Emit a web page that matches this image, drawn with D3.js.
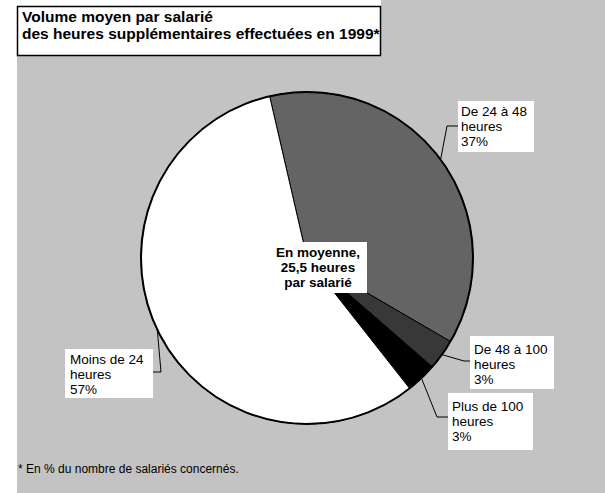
<!DOCTYPE html>
<html lang="fr">
<head>
<meta charset="utf-8">
<script src="https://cdn.jsdelivr.net/npm/d3@7"></script>
<style>
  html, body { margin: 0; padding: 0; background: #fff; }
  svg { display: block; }
  text { font-family: "Liberation Sans", Arial, sans-serif; fill: #000; }
</style>
</head>
<body>
<svg id="chart" width="605" height="493"></svg>
<script>
// Tranches de volume d'heures supplémentaires (part des salariés, en %)
const categories = ["De 24 à 48 heures", "De 48 à 100 heures", "Plus de 100 heures", "Moins de 24 heures"];
const values = [37, 3, 3, 57];
const labelLines = [
  ["De 24 à 48", "heures", "37%"],
  ["De 48 à 100", "heures", "3%"],
  ["Plus de 100", "heures", "3%"],
  ["Moins de 24", "heures", "57%"]
];
const sliceColors = ["#646464", "#383838", "#000000", "#ffffff"];
const titleLines = ["Volume moyen par salarié", "des heures supplémentaires effectuées en 1999*"];
const centerLines = ["En moyenne,", "25,5 heures", "par salarié"];
const footnote = "* En % du nombre de salariés concernés.";

const svg = d3.select("#chart");
const W = 605, H = 493;

// fond tramé gris
svg.append("rect").attr("x", 17).attr("y", 0).attr("width", W - 17).attr("height", H).attr("fill", "#c3c3c3");
svg.append("rect").attr("x", 0).attr("y", 0).attr("width", 381).attr("height", 56).attr("fill", "#fff");

// cadre du titre
svg.append("rect").attr("x", 17.5).attr("y", 6.5).attr("width", 363).attr("height", 49)
  .attr("fill", "#fff").attr("stroke", "#000").attr("stroke-width", 1.5);
svg.append("text").attr("x", 22).attr("y", 22)
  .style("font-weight", "bold").style("font-size", "15.5px")
  .selectAll("tspan").data(titleLines).join("tspan")
  .attr("x", 22).attr("dy", (d, i) => i === 0 ? 0 : 17).text(d => d);

// camembert
const cx = 307, cy = 258, r = 166;
const startOffset = -13 * Math.PI / 180;
const pie = d3.pie().sort(null).value(d => d)
  .startAngle(startOffset).endAngle(startOffset + 2 * Math.PI);
const arcs = pie(values);
const arc = d3.arc().innerRadius(0).outerRadius(r);
const edge = d3.arc().innerRadius(r).outerRadius(r);

const g = svg.append("g").attr("transform", `translate(${cx},${cy})`);
g.selectAll("path.slice").data(arcs).join("path")
  .attr("class", "slice")
  .attr("d", arc)
  .attr("fill", (d, i) => sliceColors[i])
  .attr("stroke", "#000").attr("stroke-width", 1)
  .attr("stroke-linejoin", "round");
g.append("circle").attr("r", r).attr("fill", "none").attr("stroke", "#000").attr("stroke-width", 2);

// boîtes d'étiquettes : cadre, position du texte, coude et fin du trait de rappel
const labelBoxes = [
  { box: [458, 101, 76, 51], tx: 461, ty: 116, elbow: [447, 126], end: [458, 126] },
  { box: [470, 336, 84, 53], tx: 474, ty: 354, elbow: [464, 361], end: [470, 361] },
  { box: [448, 393, 85, 57], tx: 452, ty: 411, elbow: [437, 417], end: [448, 417] },
  { box: [65, 349, 88, 49], tx: 70, ty: 364, elbow: [161, 372], end: [153, 372] }
];
const lineGap = 15;

labelBoxes.forEach((L, i) => {
  const p = edge.centroid(arcs[i]);
  const start = [cx + p[0], cy + p[1]];
  svg.append("path")
    .attr("d", d3.line()([start, L.elbow, L.end]))
    .attr("fill", "none").attr("stroke", "#000").attr("stroke-width", 1);
  svg.append("rect").attr("x", L.box[0]).attr("y", L.box[1])
    .attr("width", L.box[2]).attr("height", L.box[3]).attr("fill", "#fff");
  svg.append("text").attr("x", L.tx).attr("y", L.ty).style("font-size", "13.5px")
    .selectAll("tspan").data(labelLines[i]).join("tspan")
    .attr("x", L.tx).attr("dy", (d, k) => k === 0 ? 0 : lineGap).text(d => d);
});

// encart central
svg.append("rect").attr("x", 271).attr("y", 242).attr("width", 96).attr("height", 51).attr("fill", "#fff");
svg.append("text").attr("x", 318).attr("y", 257).attr("text-anchor", "middle")
  .style("font-weight", "bold").style("font-size", "13.5px")
  .selectAll("tspan").data(centerLines).join("tspan")
  .attr("x", 318).attr("dy", (d, i) => i === 0 ? 0 : lineGap).text(d => d);

// note de bas de page
svg.append("text").attr("x", 18).attr("y", 473)
  .style("font-size", "12px").text(footnote);
</script>
</body>
</html>
